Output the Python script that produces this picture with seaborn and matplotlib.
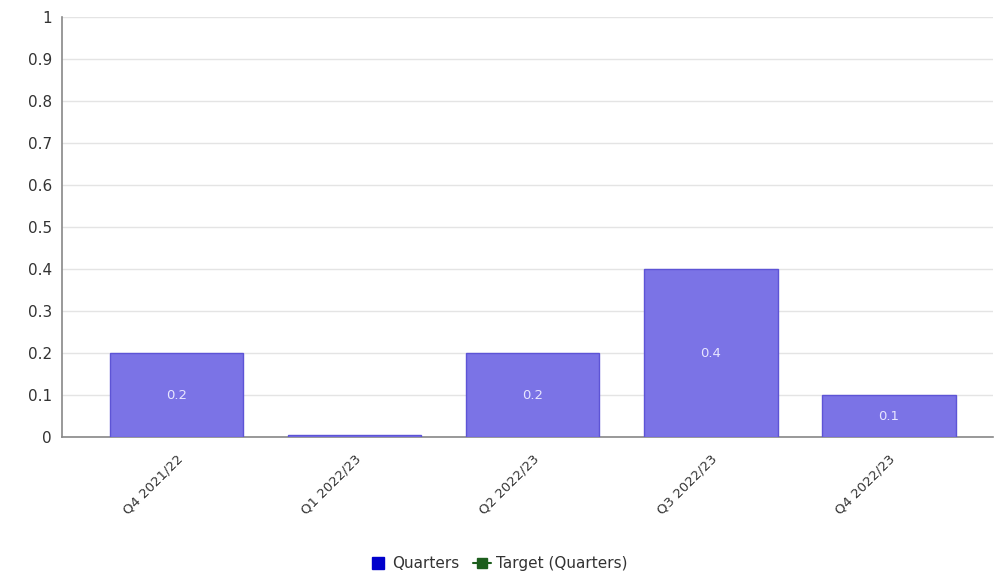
import matplotlib
matplotlib.use('Agg')
import matplotlib.pyplot as plt
import seaborn as sns
import pandas as pd
from matplotlib.lines import Line2D

quarters = ['Q4 2021/22', 'Q1 2022/23', 'Q2 2022/23', 'Q3 2022/23', 'Q4 2022/23']
values = [0.2, 0.004, 0.2, 0.4, 0.1]
labels = ['0.2', '', '0.2', '0.4', '0.1']
yticks = [0, 0.1, 0.2, 0.3, 0.4, 0.5, 0.6, 0.7, 0.8, 0.9, 1]
ytick_labels = ['0', '0.1', '0.2', '0.3', '0.4', '0.5', '0.6', '0.7', '0.8', '0.9', '1']

df = pd.DataFrame({'Quarter': quarters, 'Value': values})

sns.set_style('white')
plt.rcParams['font.family'] = ['DejaVu Sans']

fig = plt.figure(figsize=(9.96, 5.82), dpi=100)
ax = fig.add_axes([0.062, 0.249, 0.935, 0.722])

sns.barplot(data=df, x='Quarter', y='Value', color='#7b73e6', saturation=1,
            width=0.75, edgecolor='#5d54d6', linewidth=1, ax=ax, zorder=3)

for i, (v, lab) in enumerate(zip(values, labels)):
    if lab:
        ax.text(i, v / 2, lab, ha='center', va='center', color='#e8e6ff', fontsize=9.5, zorder=4)

ax.set_ylim(0, 1)
ax.set_xlim(-0.645, 4.585)
ax.set_yticks(yticks)
ax.set_yticklabels(ytick_labels, fontsize=11, color='#333333')
ax.set_xticks(range(len(quarters)))
ax.set_xticklabels(quarters, rotation=45, ha='right', rotation_mode='anchor',
                   fontsize=9.5, color='#333333')
ax.set_xlabel('')
ax.set_ylabel('')
ax.grid(axis='y', color='#e4e4e4', linewidth=1, zorder=0)
ax.tick_params(axis='both', length=4, width=1, color='#888888', direction='out', pad=3)
ax.tick_params(axis='x', pad=7)
for s in ['top', 'right']:
    ax.spines[s].set_visible(False)
for s in ['left', 'bottom']:
    ax.spines[s].set_color('#888888')
    ax.spines[s].set_linewidth(1.2)

handles = [
    Line2D([0], [0], color='none', marker='s', markersize=9, markerfacecolor='#0000cc',
           markeredgecolor='#0000cc', label='Quarters'),
    Line2D([0], [0], color='#1d5e1d', marker='s', markersize=7, linewidth=1.5, label='Target (Quarters)'),
]
fig.legend(handles=handles, loc='lower center', bbox_to_anchor=(0.5, -0.005), ncol=2,
           frameon=False, fontsize=11, handlelength=1.2, handletextpad=0.3, columnspacing=0.9,
           labelcolor='#333333')

fig.savefig('out.png', dpi=100)
